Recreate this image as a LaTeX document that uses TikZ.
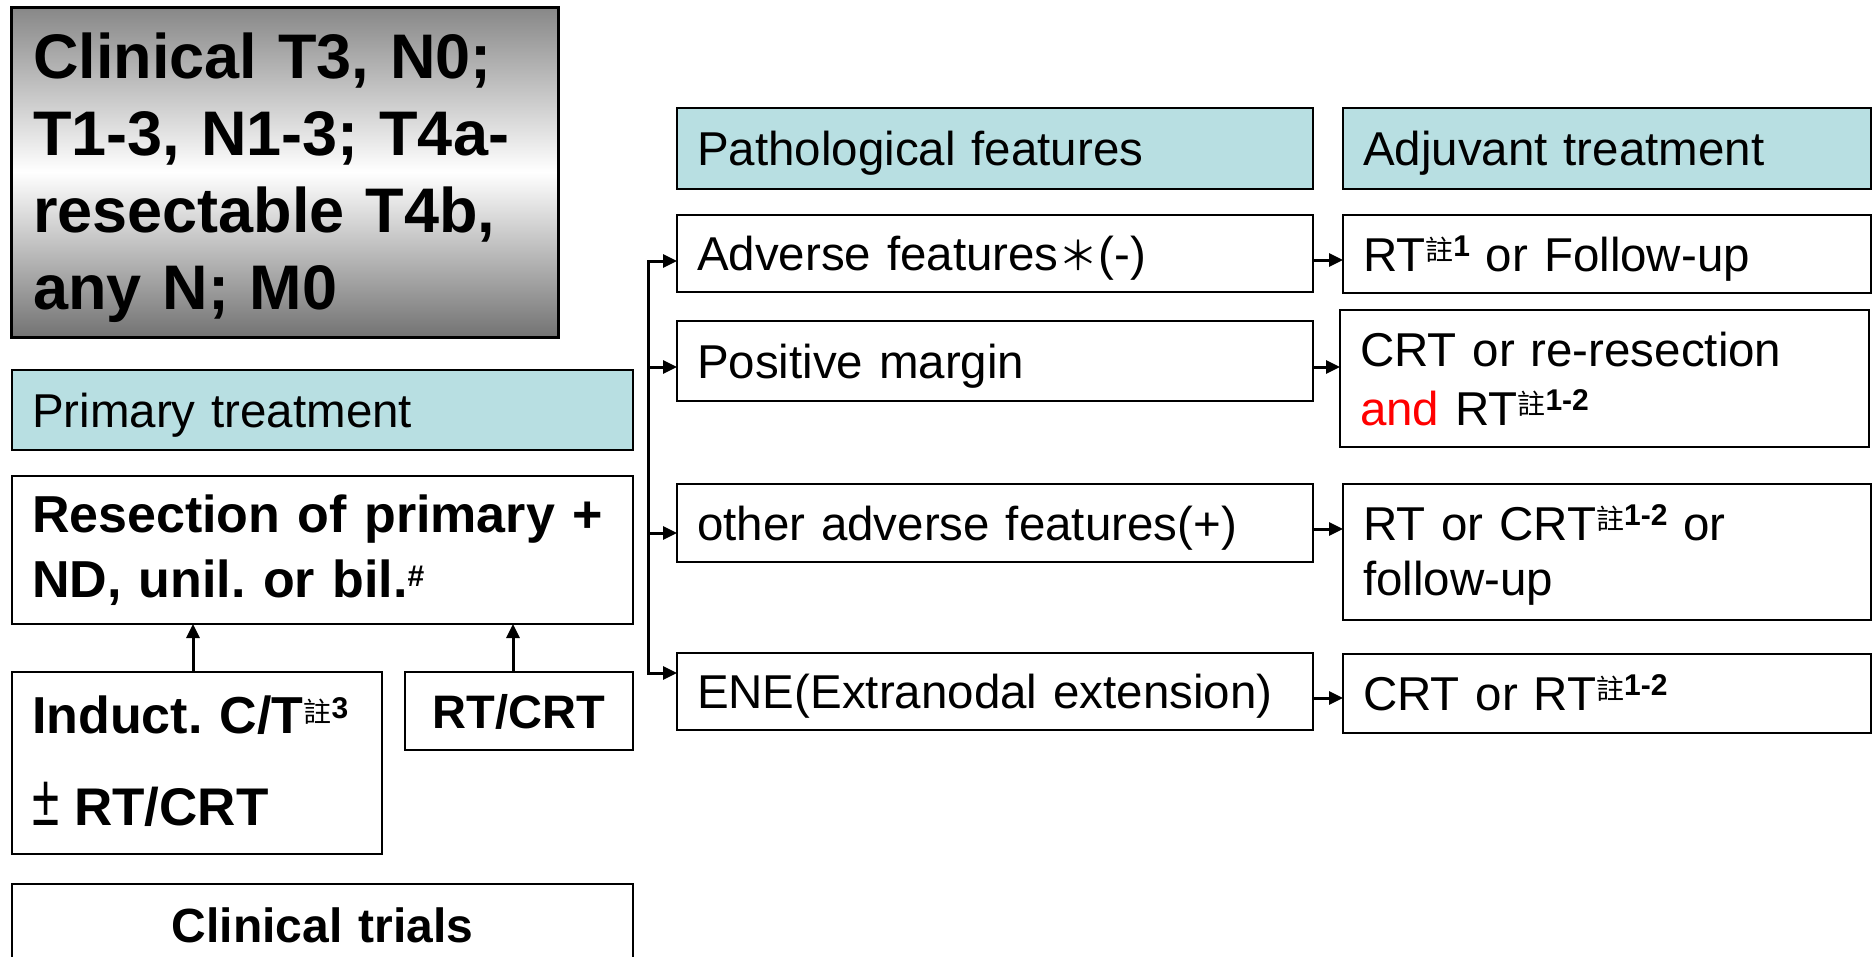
\documentclass[tikz,border=0pt]{standalone}
\usepackage{graphicx}
\usepackage{fontspec}
\setmainfont{Liberation Sans}
\newfontfamily\cjk{Noto Sans CJK TC}
\usetikzlibrary{arrows.meta}
\definecolor{teal1}{RGB}{184,223,226}
\newcommand{\zhu}[1]{\raisebox{11pt}{\fontsize{28}{28}\selectfont\mdseries\cjk 註}\raisebox{15pt}{\fontsize{30}{30}\selectfont\bfseries #1}}
\newcommand{\hsup}[1]{\raisebox{11pt}{\fontsize{30}{30}\selectfont\bfseries #1}}
\frenchspacing
\begin{document}
\frenchspacing
\begin{tikzpicture}[x=1pt,y=-1pt,
  box/.style={draw=black, line width=2.5pt, rectangle, anchor=north west, inner xsep=20pt, inner ysep=0pt, outer sep=0pt, align=left},
  hdr/.style={box, fill=teal1},
  reg/.style={font=\fontsize{47.5}{57}\selectfont},
  oneline/.style={text height=44pt, text depth=10pt},
  arr/.style={line width=3pt, -{Triangle[length=14pt,width=13pt]}},
  arr2/.style={line width=3pt, {Triangle[length=14pt,width=13pt]}-{Triangle[length=14pt,width=13pt]}}
]
\path[use as bounding box] (0,0) rectangle (1874,956);
\clip (0,0) rectangle (1874,956);
\fill[white] (0,0) rectangle (1874,956);

% left column
\node[box, line width=3pt, top color=black!47, bottom color=black!55, middle color=white,
  font=\bfseries\fontsize{63}{77}\selectfont, minimum width=547pt, minimum height=330pt,
  text width=503pt, inner xsep=22pt, text height=48pt, text depth=236pt]
  (clin) at (11,7) {Clinical T3, N0;\\T1-3, N1-3; T4a-\\resectable T4b,\\any N; M0};

\node[hdr, reg, oneline, minimum width=621pt, minimum height=80pt, text width=581pt]
  (prim) at (12,370) {Primary treatment};

\node[box, font=\bfseries\fontsize{52}{65}\selectfont, minimum width=621pt, minimum height=148pt,
  text width=581pt, text height=42pt, text depth=78pt]
  (resec) at (12,476) {Resection of primary +\\ND, unil. or bil.\hsup{\#}};

\node[box, font=\bfseries\fontsize{52}{92}\selectfont, minimum width=370pt, minimum height=182pt,
  text width=330pt, text height=42pt, text depth=102pt]
  (induct) at (12,672) {Induct. C/T\zhu{3}\\{\mdseries\scalebox{0.95}[1.4]{±}}\hspace{15pt}{\fontsize{53}{92}\selectfont RT/CRT}};

\node[box, oneline, font=\bfseries\fontsize{47}{56}\selectfont, minimum width=228pt, minimum height=78pt,
  text width=188pt, align=center]
  (rtcrt) at (405,672) {RT/CRT};

\node[box, oneline, font=\bfseries\fontsize{48}{56}\selectfont, minimum width=621pt, minimum height=82pt,
  text width=581pt, align=center]
  (trials) at (12,884) {Clinical trials};

% pathological features
\node[hdr, reg, oneline, minimum width=636pt, minimum height=81pt, text width=596pt]
  (path) at (677,108) {Pathological features};
\node[box, reg, oneline, minimum width=636pt, minimum height=77pt, text width=596pt]
  (adv) at (677,215) {Adverse features{\cjk\fontsize{40}{40}\selectfont ＊}(-)};
\node[box, reg, oneline, minimum width=636pt, minimum height=80pt, text width=596pt]
  (pos) at (677,321) {Positive margin};
\node[box, reg, oneline, minimum width=636pt, minimum height=78pt, text width=596pt]
  (oth) at (677,484) {other adverse features(+)};
\node[box, reg, oneline, minimum width=636pt, minimum height=77pt, text width=596pt]
  (ene) at (677,653) {ENE(Extranodal extension)};

% adjuvant treatment
\node[hdr, reg, oneline, minimum width=528pt, minimum height=81pt, text width=488pt]
  (adj) at (1343,108) {Adjuvant treatment};
\node[box, reg, oneline, minimum width=528pt, minimum height=78pt, text width=488pt]
  (r1) at (1343,215) {RT\zhu{1} or Follow-up};
\node[box, font=\fontsize{47.5}{59}\selectfont, minimum width=529pt, minimum height=137pt, text width=489pt,
  text height=40pt, text depth=65pt]
  (r2) at (1340,310) {CRT or re-resection\\\textcolor{red}{and} RT\zhu{1-2}};
\node[box, font=\fontsize{47.5}{55}\selectfont, minimum width=528pt, minimum height=136pt, text width=488pt,
  text height=40pt, text depth=64pt]
  (r3) at (1343,484) {RT or CRT\zhu{1-2} or\\follow-up};
\node[box, reg, oneline, minimum width=528pt, minimum height=79pt, text width=488pt]
  (r4) at (1343,654) {CRT or RT\zhu{1-2}};

% connectors
\coordinate (b1) at (648,261);
\coordinate (b2) at (648,367);
\coordinate (b3) at (648,533);
\coordinate (b4) at (648,673);
\draw[arr2] (adv.west |- b1) -- (b1) -- (b4) -- (ene.west |- b4);
\draw[arr] (b2) -- (pos.west |- b2);
\draw[arr] (b3) -- (oth.west |- b3);

\coordinate (c1) at (0,260);
\coordinate (c2) at (0,367);
\coordinate (c3) at (0,529);
\coordinate (c4) at (0,698);
\draw[arr] (adv.east |- c1) -- (r1.west |- c1);
\draw[arr] (pos.east |- c2) -- (r2.west |- c2);
\draw[arr] (oth.east |- c3) -- (r3.west |- c3);
\draw[arr] (ene.east |- c4) -- (r4.west |- c4);

\coordinate (u1) at (193,0);
\coordinate (u2) at (513,0);
\draw[arr] (induct.north -| u1) -- (resec.south -| u1);
\draw[arr] (rtcrt.north -| u2) -- (resec.south -| u2);
\end{tikzpicture}
\end{document}
